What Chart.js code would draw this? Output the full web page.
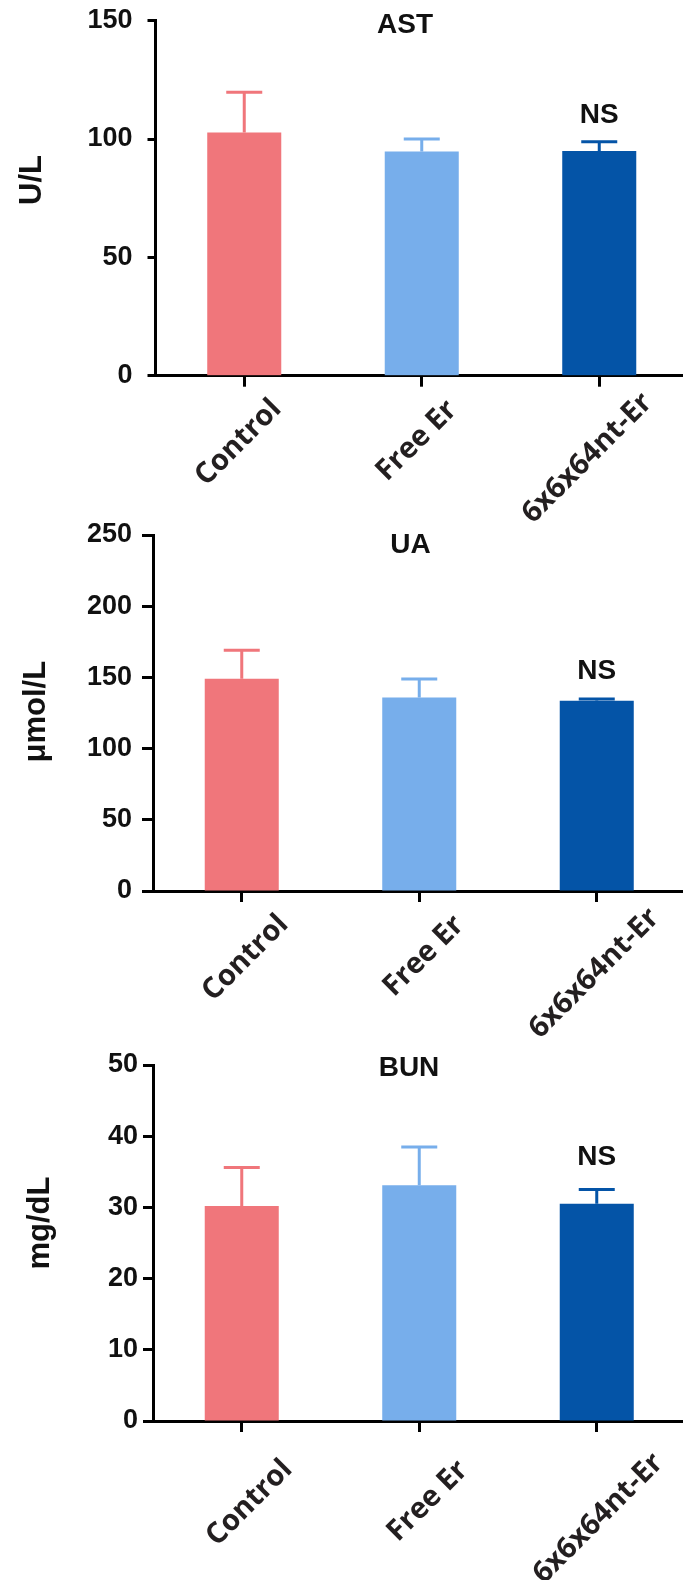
<!DOCTYPE html>
<html>
<head>
<meta charset="utf-8">
<script src="https://cdn.jsdelivr.net/npm/chart.js@4.4.1/dist/chart.umd.min.js"></script>
<style>
  html, body { margin: 0; padding: 0; background: #fff; overflow: hidden; width: 683px; height: 1580px; }
  .panel { position: absolute; left: 0; }
</style>
</head>
<body>
<div class="panel" style="top:0"><canvas id="ast" width="690" height="535"></canvas></div>
<div class="panel" style="top:520px"><canvas id="ua" width="690" height="535"></canvas></div>
<div class="panel" style="top:1040px"><canvas id="bun" width="690" height="540"></canvas></div>
<script>
// groups and colours
var groups = ['Control', 'Free Er', '6x6x64nt-Er'];
var barColors = ['#F0767B', '#77AEEB', '#0454A7'];

// AST (U/L)
var astMean = [102.8, 94.7, 94.9];
var astErr = [17, 5.3, 4];
// UA (umol/L)
var uaMean = [149, 135.8, 133.6];
var uaErr = [20, 13, 1.2];
// BUN (mg/dL)
var bunMean = [30.2, 33.1, 30.5];
var bunErr = [5.4, 5.4, 2];

var sigLabel = 'NS';

function makeDecor(p) {
    return {
        id: 'decor',
        afterDatasetsDraw: function(chart) {
            var ctx = chart.ctx;
            var ys = chart.scales.y;
            var meta = chart.getDatasetMeta(0);
            ctx.save();
            ctx.lineWidth = 3;
            meta.data.forEach(function(bar, i) {
                var top = ys.getPixelForValue(p.mean[i] + p.err[i]);
                ctx.strokeStyle = barColors[i];
                ctx.beginPath();
                ctx.moveTo(bar.x, bar.y);
                ctx.lineTo(bar.x, top);
                ctx.moveTo(bar.x - 18, top);
                ctx.lineTo(bar.x + 18, top);
                ctx.stroke();
            });
            ctx.restore();
        },
        afterDraw: function(chart) {
            var ctx = chart.ctx;
            var area = chart.chartArea;
            var xs = chart.scales.x, ys = chart.scales.y;
            ctx.save();
            ctx.fillStyle = '#111';
            // panel title
            ctx.font = 'bold 28px "Liberation Sans", Arial, sans-serif';
            ctx.textAlign = 'center';
            ctx.textBaseline = 'alphabetic';
            ctx.fillText(p.title, p.titleX, p.titleY);
            // NS above last bar
            var last = groups.length - 1;
            var nsTop = ys.getPixelForValue(p.mean[last] + p.err[last]);
            ctx.fillText(sigLabel, xs.getPixelForValue(last), nsTop - p.nsGap);
            // y axis title
            ctx.font = 'bold 31px "Liberation Sans", Arial, sans-serif';
            ctx.save();
            ctx.translate(p.unitX, p.unitY);
            ctx.rotate(-Math.PI / 2);
            ctx.fillText(p.unit, 0, 0);
            ctx.restore();
            // rotated category labels
            ctx.font = 'bold 29px "Open Sans", sans-serif';
            ctx.fillStyle = '#231F20';
            ctx.textBaseline = 'middle';
            groups.forEach(function(g, i) {
                var L = ctx.measureText(g).width;
                var cx = xs.getPixelForValue(i) + p.lblDx - 0.1 * (L - 100);
                var cy = area.bottom + p.lblDy + 0.25 * (L - 100);
                ctx.save();
                ctx.translate(cx, cy);
                ctx.rotate(-Math.PI / 4);
                ctx.fillText(g, 0, 0);
                ctx.restore();
            });
            ctx.restore();
        }
    };
}

function makePanel(id, p) {
    var canvas = document.getElementById(id);
    return new Chart(canvas.getContext('2d'), {
        type: 'bar',
        data: {
            labels: groups,
            datasets: [{
                data: p.mean,
                backgroundColor: barColors,
                borderWidth: 0,
                barPercentage: 0.417,
                categoryPercentage: 1.0
            }]
        },
        options: {
            responsive: false,
            animation: false,
            layout: { padding: { left: 0, top: p.top, right: 690 - p.right, bottom: canvas.height - p.bottom - 12 } },
            plugins: { legend: { display: false }, tooltip: { enabled: false } },
            scales: {
                x: {
                    offset: true,
                    grid: { display: true, drawOnChartArea: false, offset: false, tickLength: 11, tickWidth: 3, tickColor: '#000' },
                    border: { display: true, color: '#000', width: 3 },
                    ticks: { display: false },
                    afterFit: function(s) { s.height = 12; s.paddingLeft = 0; s.paddingRight = 0; }
                },
                y: {
                    min: 0,
                    max: p.max,
                    grid: { drawOnChartArea: false, tickLength: p.tickLen, tickWidth: 3, tickColor: '#000' },
                    border: { display: true, color: '#000', width: 3 },
                    ticks: {
                        stepSize: p.step,
                        padding: p.tickPad,
                        color: '#111',
                        font: { family: '"Liberation Sans", Arial, sans-serif', size: 27, weight: 'bold', lineHeight: 1 }
                    },
                    afterFit: function(s) { s.width = p.left; s.paddingTop = 0; s.paddingBottom = 0; }
                }
            }
        },
        plugins: [makeDecor(p)]
    });
}

makePanel('ast', {
    mean: astMean, err: astErr, max: 150, step: 50,
    title: 'AST', unit: 'U/L',
    left: 155.5, right: 688, top: 20.7, bottom: 375.7,
    tickLen: 8, tickPad: 15,
    titleX: 405, titleY: 33.3, nsGap: 19,
    unitX: 41, unitY: 180,
    lblDx: -5, lblDy: 65
});

makePanel('ua', {
    mean: uaMean, err: uaErr, max: 250, step: 50,
    title: 'UA', unit: 'μmol/L',
    left: 153, right: 685.5, top: 15, bottom: 371,
    tickLen: 11, tickPad: 10,
    titleX: 410.5, titleY: 33.3, nsGap: 20,
    unitX: 45, unitY: 191.7,
    lblDx: 4.5, lblDy: 65
});

makePanel('bun', {
    mean: bunMean, err: bunErr, max: 50, step: 10,
    title: 'BUN', unit: 'mg/dL',
    left: 153, right: 685.5, top: 25, bottom: 381,
    tickLen: 10, tickPad: 5,
    titleX: 409, titleY: 36, nsGap: 25,
    unitX: 49, unitY: 183,
    lblDx: 8.5, lblDy: 80
});
</script>
</body>
</html>
